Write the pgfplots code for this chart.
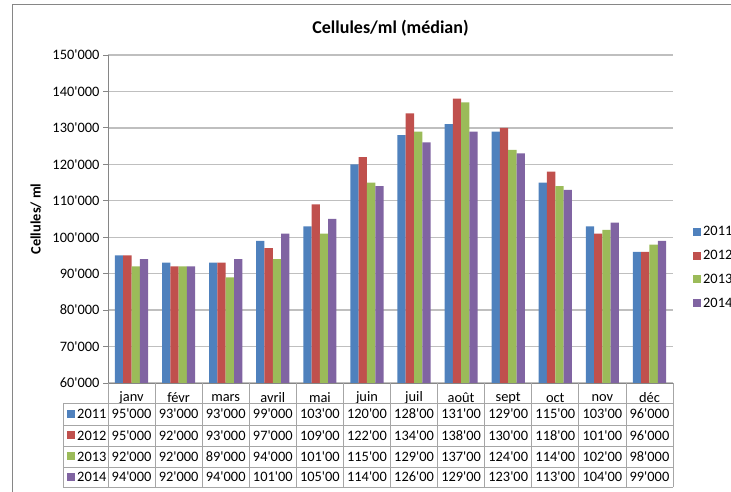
\documentclass[border=0pt]{standalone}
\usepackage{fontspec}
\setmainfont{Carlito}
\usepackage{pgfplots}
\pgfplotsset{compat=1.18}

\definecolor{c11}{HTML}{4F81BD}
\definecolor{c12}{HTML}{C0504D}
\definecolor{c13}{HTML}{9BBB59}
\definecolor{c14}{HTML}{8064A2}
\definecolor{gridgray}{HTML}{BFBFBF}
\definecolor{axisgray}{HTML}{868686}
\definecolor{tabgray}{HTML}{A6A6A6}

\newcommand{\q}{\textquotesingle}
\newcommand{\fs}{\fontsize{14.4}{17}\selectfont}

\pgfplotsset{
  sq/.style={legend image code/.code={\fill[##1] (0pt,-4pt) rectangle (8pt,4pt);}},
}

\begin{document}
\begin{tikzpicture}[x=1pt,y=1pt,font=\fs]
\useasboundingbox (0,0) rectangle (731,492);
% outer frame
\draw[axisgray, line width=1.3pt] (12.5,-10) -- (12.5,487.5) -- (750,487.5);

\node[font=\fontsize{18}{20}\selectfont\bfseries] at (390.5,464) {Cellules/ml (médian)};
\node[font=\fs\bfseries, rotate=90] at (36,273) {Cellules/ ml};

\begin{axis}[
    at={(108pt,109pt)}, anchor=south west,
    scale only axis, width=565pt, height=328pt,
    ybar=0pt, bar width=8.3pt,
    xmin=-0.5, xmax=11.5,
    ymin=60000, ymax=150000,
    ytick={60000,70000,80000,90000,100000,110000,120000,130000,140000,150000},
    scaled y ticks=false,
    yticklabel style={font=\fs, /pgf/number format/.cd, fixed, precision=0,
        1000 sep={\q}, assume math mode=true},
    ymajorgrids, grid style={gridgray, line width=1.3pt},
    axis x line*=bottom, axis y line*=left,
    axis line style={axisgray, line width=0.9pt, -},
    xtick=data,
    xticklabels={janv,févr,mars,avril,mai,juin,juil,août,sept,oct,nov,déc},
    x tick style={draw=none},
    xticklabel style={font=\fs, anchor=center, yshift=-10pt},
    y tick style={axisgray, line width=0.9pt},
    major tick length=5pt, tick align=outside,
    clip=false,
    legend style={at={(1.030,0.352)}, anchor=west, draw=none, fill=none,
        font=\fs, row sep=9pt},
    legend cell align=left,
]
\addplot[fill=c11, draw=none, sq] coordinates {
  (0,95000) (1,93000) (2,93000) (3,99000) (4,103000) (5,120000)
  (6,128000) (7,131000) (8,129000) (9,115000) (10,103000) (11,96000)};
\addlegendentry{2011}
\addplot[fill=c12, draw=none, sq] coordinates {
  (0,95000) (1,92000) (2,93000) (3,97000) (4,109000) (5,122000)
  (6,134000) (7,138000) (8,130000) (9,118000) (10,101000) (11,96000)};
\addlegendentry{2012}
\addplot[fill=c13, draw=none, sq] coordinates {
  (0,92000) (1,92000) (2,89000) (3,94000) (4,101000) (5,115000)
  (6,129000) (7,137000) (8,124000) (9,114000) (10,102000) (11,98000)};
\addlegendentry{2013}
\addplot[fill=c14, draw=none, sq] coordinates {
  (0,94000) (1,92000) (2,94000) (3,101000) (4,105000) (5,114000)
  (6,126000) (7,129000) (8,123000) (9,113000) (10,104000) (11,99000)};
\addlegendentry{2014}
\end{axis}

% data table below the axis
\foreach \i in {0,...,12} {
  \draw[tabgray, line width=0.8pt] ({108+47.083*\i},109) -- ({108+47.083*\i},5);
}
\foreach \yy in {89,67,46,25,5} {
  \draw[tabgray, line width=0.8pt] (63,\yy) -- (673,\yy);
}
\draw[tabgray, line width=0.8pt] (63,89) -- (63,5);

\foreach \col/\yr/\yc/\vals in {
  c11/2011/78/{95\q000,93\q000,93\q000,99\q000,103\q00,120\q00,128\q00,131\q00,129\q00,115\q00,103\q00,96\q000},
  c12/2012/56.5/{95\q000,92\q000,93\q000,97\q000,109\q00,122\q00,134\q00,138\q00,130\q00,118\q00,101\q00,96\q000},
  c13/2013/35.5/{92\q000,92\q000,89\q000,94\q000,101\q00,115\q00,129\q00,137\q00,124\q00,114\q00,102\q00,98\q000},
  c14/2014/15/{94\q000,92\q000,94\q000,101\q00,105\q00,114\q00,126\q00,129\q00,123\q00,113\q00,104\q00,99\q000}} {
  \fill[\col] (67,\yc-4) rectangle (75,\yc+4);
  \node[anchor=west, inner sep=0pt] at (77,\yc) {\yr};
  \foreach \v [count=\k from 0] in \vals {
    \node[inner sep=0pt] at ({131.54+47.083*\k},\yc) {\v};
  }
}
\end{tikzpicture}
\end{document}
